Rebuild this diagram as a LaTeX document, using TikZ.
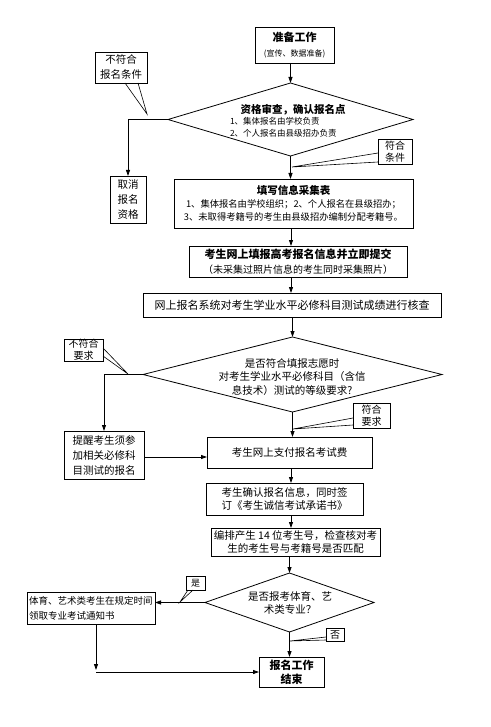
\documentclass[tikz,border=0pt]{standalone}
\usepackage{fontspec}
\setmainfont{Noto Sans CJK SC}
\usetikzlibrary{arrows.meta,shapes.geometric,shadows}
\begin{document}
\begin{tikzpicture}[x=1pt,y=-1pt,
  every node/.style={inner sep=0pt, outer sep=0pt},
  f/.style n args={2}{font=\fontsize{#1}{#2}\selectfont},
  box/.style={draw, line width=0.8pt, align=center, fill=white},
  dia/.style={draw, line width=0.8pt, shape=diamond, inner sep=0pt},
  callout/.style={draw, line width=0.6pt, fill=white, align=center,
    drop shadow={shadow xshift=1.2pt, shadow yshift=-1.2pt, fill=black!45, opacity=1}},
  tail/.style={line width=0.6pt},
  arr/.style={line width=0.8pt, -{Triangle[length=6pt,width=4pt]}},
  ln/.style={line width=0.8pt}]
\fill[white] (0,0) rectangle (490,727);
\useasboundingbox (0,0) rectangle (490,727);
\coordinate (ax) at (291,0);

% main boxes
\node[box, minimum width=79pt, minimum height=36pt] (prep) at (294.5,45)
  {{\fontsize{11}{13}\bfseries 准备工作}\\[3pt]{\fontsize{8}{10}\selectfont (宣传、数据准备)}};
\node[dia, minimum width=245pt, minimum height=73pt] (d1) at (290.5,119.5) {};
\node (d1t) at (293,110) {\fontsize{10.5}{12}\bfseries 资格审查，确认报名点};
\node[f={8.5}{10}, anchor=west] (d1a) at (230,121) {1、集体报名由学校负责};
\node[f={8.5}{10}, anchor=west] (d1b) at (230,133) {2、个人报名由县级招办负责};

\node[box, f={10.5}{15}, minimum width=36pt, minimum height=47pt] (cancel) at (128,199.5) {取消\\报名\\资格};

\node[box, f={9.3}{13}, minimum width=239pt, minimum height=49pt] (fill) at (293.5,203.5)
  {{\fontsize{10.5}{13}\bfseries 填写信息采集表}\\1、集体报名由学校组织；2、个人报名在县级招办；\\3、未取得考籍号的考生由县级招办编制分配考籍号。};

\node[box, f={10}{15}, minimum width=218pt, minimum height=31pt] (online) at (298,261.5)
  {{\fontsize{11}{13}\bfseries 考生网上填报高考报名信息并立即提交}\\（未采集过照片信息的考生同时采集照片）};

\node[box, f={11}{13}, minimum width=298pt, minimum height=24pt] (check) at (292,305)
  {网上报名系统对考生学业水平必修科目测试成绩进行核查};

\node[dia, minimum width=299pt, minimum height=75pt] (d2) at (292.5,374.5) {};
\node[f={10.5}{13.5}, align=center] (d2t) at (292,377)
  {是否符合填报志愿时\\对考生学业水平必修科目（含信\\息技术）测试的等级要求?};

\node[box, f={10.5}{15}, minimum width=80pt, minimum height=48pt] (remind) at (104,455)
  {提醒考生须参\\加相关必修科\\目测试的报名};

\node[box, f={10.5}{13}, minimum width=165pt, minimum height=31pt] (pay) at (289.5,452.5)
  {考生网上支付报名考试费};

\node[box, f={10.5}{13}, minimum width=157pt, minimum height=32pt] (confirm) at (284.5,499)
  {考生确认报名信息，同时签\\订《考生诚信考试承诺书》};

\node[box, f={10.5}{12.5}, minimum width=169pt, minimum height=28pt] (arrange) at (295.5,542)
  {编排产生 14 位考生号，检查核对考\\生的考生号与考籍号是否匹配};

\node[dia, minimum width=169pt, minimum height=59pt] (d3) at (289.5,602.5) {};
\node[f={10.5}{12.5}, align=center] (d3t) at (290,603) {是否报考体育、艺\\术类专业？};

\node[box, f={9.5}{15}, align=left, minimum width=128pt, minimum height=32pt, text width=124pt] (sport) at (91,608)
  {体育、艺术类考生在规定时间\\领取专业考试通知书};

\node[box, font={\fontsize{11}{14}\selectfont\bfseries}, minimum width=65pt, minimum height=30pt] (end) at (291.5,672)
  {报名工作\\结束};

% connectors
\draw[arr] (prep.south -| d1.north) -- (d1.north);
\draw[arr] (d1.west) -| (cancel.north);
\draw[arr] (d1.south) -- (d1.south |- fill.north);
\draw[arr] (fill.south -| ax) -- (online.north -| ax);
\draw[arr] (online.south -| ax) -- (check.north -| ax);
\draw[arr] (check.south -| d2.north) -- (d2.north);
\draw[arr] (d2.west) -| (remind.north);
\draw[arr] (d2.south) -- (d2.south |- pay.north);
\draw[arr] ([yshift=-2pt]remind.east) -- ([yshift=-2pt]remind.east -| pay.west);
\draw[arr] (pay.south -| ax) -- (confirm.north -| ax);
\draw[arr] (confirm.south -| ax) -- (arrange.north -| ax);
\draw[arr] (arrange.south -| d3.north) -- (d3.north);
\draw[arr] (d3.west) -- (d3.west -| sport.east);
\draw[arr] (d3.south) -- (d3.south |- end.north);
\coordinate (corner) at (96,672);
\draw[arr] (sport.south -| corner) -- ([yshift=2pt]corner);
\draw[arr] (corner) -- (corner -| end.west);

% callouts
\node[callout, f={10.5}{15}, minimum width=52pt, minimum height=31pt] (c1) at (121,67.5) {不符合\\报名条件};
\coordinate (c1t) at (147,114);
\draw[tail] ([xshift=30pt]c1.south west) -- (c1t) -- ([xshift=43pt]c1.south west);

\node[callout, f={10}{12.5}, minimum width=34pt, minimum height=25pt] (c2) at (395,151.5) {符合\\条件};
\coordinate (c2t) at (292,167);
\draw[tail] ([yshift=-1.5pt]c2.west) -- (c2t) -- ([yshift=-10.5pt]c2.west);

\node[callout, f={10}{12}, minimum width=39pt, minimum height=22pt] (c3) at (83.5,350) {不符合\\要求};
\coordinate (c3t) at (128,374);
\draw[tail] ([yshift=2pt]c3.east) -- (c3t) -- ([yshift=-6pt]c3.east);

\node[callout, f={10}{12.5}, minimum width=37pt, minimum height=25pt] (c4) at (371.5,415.5) {符合\\要求};
\coordinate (c4t) at (293,429);
\draw[tail] ([yshift=-2.5pt]c4.west) -- (c4t) -- ([yshift=-9.5pt]c4.west);

\node[callout, f={9}{11}, minimum width=19pt, minimum height=14pt] (c5) at (195.5,583) {是};
\coordinate (c5t) at (180,602);
\draw[tail] ([xshift=2pt]c5.south west) -- (c5t) -- ([xshift=7pt]c5.south west);

\node[callout, f={10}{12}, minimum width=18pt, minimum height=13pt] (c6) at (335,634.5) {否};
\coordinate (c6t) at (290,641);
\draw[tail] ([yshift=-2.5pt]c6.west) -- (c6t) -- ([yshift=-5.5pt]c6.west);
\end{tikzpicture}
\end{document}
